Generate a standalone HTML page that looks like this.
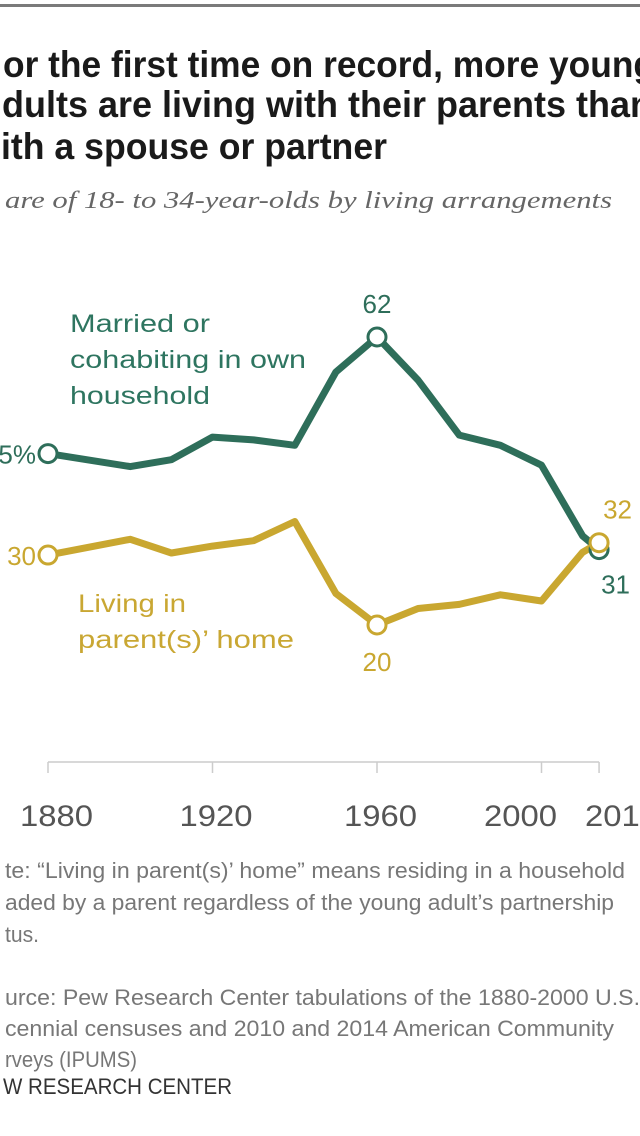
<!DOCTYPE html>
<html><head><meta charset="utf-8"><style>
html,body{margin:0;padding:0;background:#fff;width:640px;height:1136px;overflow:hidden}
svg{display:block}
</style></head><body>
<svg id="chart" width="640" height="1136" viewBox="0 0 640 1136" xmlns="http://www.w3.org/2000/svg">
<rect x="0" y="0" width="640" height="1136" fill="#fff"/>
<rect x="0" y="4" width="640" height="3" fill="#7a7a7a"/>
<g font-family="'Liberation Sans Narrow','Liberation Sans',sans-serif" font-weight="bold" font-size="37" fill="#1a1a1a">
<text x="3" y="77" textLength="652" lengthAdjust="spacingAndGlyphs">or the first time on record, more young</text>
<text x="2" y="117" textLength="650" lengthAdjust="spacingAndGlyphs">dults are living with their parents than</text>
<text x="1" y="159" textLength="386" lengthAdjust="spacingAndGlyphs">ith a spouse or partner</text>
</g>
<text x="5" y="208" font-family="'Liberation Serif',serif" font-style="italic" font-size="24" fill="#666" textLength="607" lengthAdjust="spacingAndGlyphs">are of 18- to 34-year-olds by living arrangements</text>
<g id="axis"></g>
<g id="series"></g>
<g font-family="'Liberation Sans Narrow','Liberation Sans',sans-serif" font-size="25">
<text x="70" y="332" fill="#2e7560" textLength="140" lengthAdjust="spacingAndGlyphs">Married or</text>
<text x="70" y="368" fill="#2e7560" textLength="236" lengthAdjust="spacingAndGlyphs">cohabiting in own</text>
<text x="70" y="404" fill="#2e7560" textLength="140" lengthAdjust="spacingAndGlyphs">household</text>
<text x="78" y="612" fill="#c9a733" textLength="108" lengthAdjust="spacingAndGlyphs">Living in</text>
<text x="78" y="648" fill="#c9a733" textLength="216" lengthAdjust="spacingAndGlyphs">parent(s)’ home</text>
</g>
<g font-family="'Liberation Sans Narrow','Liberation Sans',sans-serif" font-size="22" fill="#777">
<text x="5" y="878" textLength="620" lengthAdjust="spacingAndGlyphs">te: “Living in parent(s)’ home” means residing in a household</text>
<text x="5" y="910" textLength="609" lengthAdjust="spacingAndGlyphs">aded by a parent regardless of the young adult’s partnership</text>
<text x="5" y="942" textLength="34" lengthAdjust="spacingAndGlyphs">tus.</text>
<text x="5" y="1005" textLength="635" lengthAdjust="spacingAndGlyphs">urce: Pew Research Center tabulations of the 1880-2000 U.S.</text>
<text x="5" y="1036" textLength="609" lengthAdjust="spacingAndGlyphs">cennial censuses and 2010 and 2014 American Community</text>
<text x="5" y="1067" textLength="132" lengthAdjust="spacingAndGlyphs">rveys (IPUMS)</text>
<text x="3" y="1094" fill="#333" textLength="229" lengthAdjust="spacingAndGlyphs">W RESEARCH CENTER</text>
</g>
</svg>
<script>
const years = [1880,1900,1910,1920,1930,1940,1950,1960,1970,1980,1990,2000,2010,2014];
const married = [45,43.1,44.1,47.4,47,46.2,56.9,62,55.7,47.7,46.2,43.3,33,31];
const parents = [30.2,32.5,30.5,31.5,32.3,35.1,24.6,20,22.4,23,24.4,23.5,30.6,32];
const tickYears = [1880,1920,1960,2000,2014];
const tickLabels = ['1880','1920','1960','2000','2014'];
const NS='http://www.w3.org/2000/svg';
const xS = y => 48 + (y-1880)*4.1125;
const yS = v => 337 + (62-v)*6.857;
function mk(tag, attrs, parent){const e=document.createElementNS(NS,tag);for(const k in attrs)e.setAttribute(k,attrs[k]);parent.appendChild(e);return e;}
const axis=document.getElementById('axis');
const axisLine=mk('line',{x1:xS(1880),x2:xS(2014),y1:762,y2:762,stroke:'#ccc','stroke-width':1.5},axis);


tickYears.forEach((t,i)=>{
  const tk=mk('line',{x1:xS(t),x2:xS(t),y1:762,y2:773,stroke:'#ccc','stroke-width':1.5},axis);
  
  
  let lx = xS(t)-33;
  if(t===1880) lx=20;
  if(t===2000) lx=484;
  if(t===2014) lx=585;
  const tx=mk('text',{x:lx,y:826,'font-family':"'Liberation Sans Narrow','Liberation Sans',sans-serif",'font-size':30,fill:'#555',textLength:73,lengthAdjust:'spacingAndGlyphs'},axis);
  tx.textContent=tickLabels[i];
  
  
});
const sg=document.getElementById('series');
function drawSeries(vals,color,name){
  const pts=years.map((y,i)=>xS(y).toFixed(1)+','+yS(vals[i]).toFixed(1)).join(' ');
  const pl=mk('polyline',{points:pts,fill:'none',stroke:color,'stroke-width':7,'stroke-linejoin':'round','stroke-linecap':'round'},sg);
  
  
}
function vals(n){return n==='married'?married:parents;}
function marker(year,color,name){
  const i=years.indexOf(year);
  const c=mk('circle',{cx:xS(year),cy:yS(vals(name)[i]),r:9,fill:'#fff',stroke:color,'stroke-width':3},sg);
  
  
}
const G='#2e6e5a', Y='#c9a730';
drawSeries(married,G,'married');
drawSeries(parents,Y,'parents');
[1880,1960,2014].forEach(y=>marker(y,G,'married'));
[1880,1960,2014].forEach(y=>marker(y,Y,'parents'));
function lab(txt,x,y,color,anchor,name){
  const t=mk('text',{x:x,y:y,fill:color,'text-anchor':anchor,'font-family':"'Liberation Sans Narrow','Liberation Sans',sans-serif",'font-size':26},sg);
  t.textContent=txt;
  
  
}
const li=years.length-1;
lab(married[7].toFixed(0),xS(1960),yS(married[7])-24,G,'middle','married-peak-value');
lab(parents[7].toFixed(0),xS(1960),yS(parents[7])+46,Y,'middle','parents-low-value');
lab(Math.round(parents[li]),xS(2014)+4,yS(parents[li])-24,Y,'start','parents-end-value');
lab(Math.round(married[li]),xS(2014)+2,yS(married[li])+44,G,'start','married-end-value');
lab(Math.round(married[0])+'%',xS(1880)-12,yS(married[0])+10,G,'end','married-start-value');
lab(Math.round(parents[0]),xS(1880)-12,yS(parents[0])+10,Y,'end','parents-start-value');
</script>
</body></html>
